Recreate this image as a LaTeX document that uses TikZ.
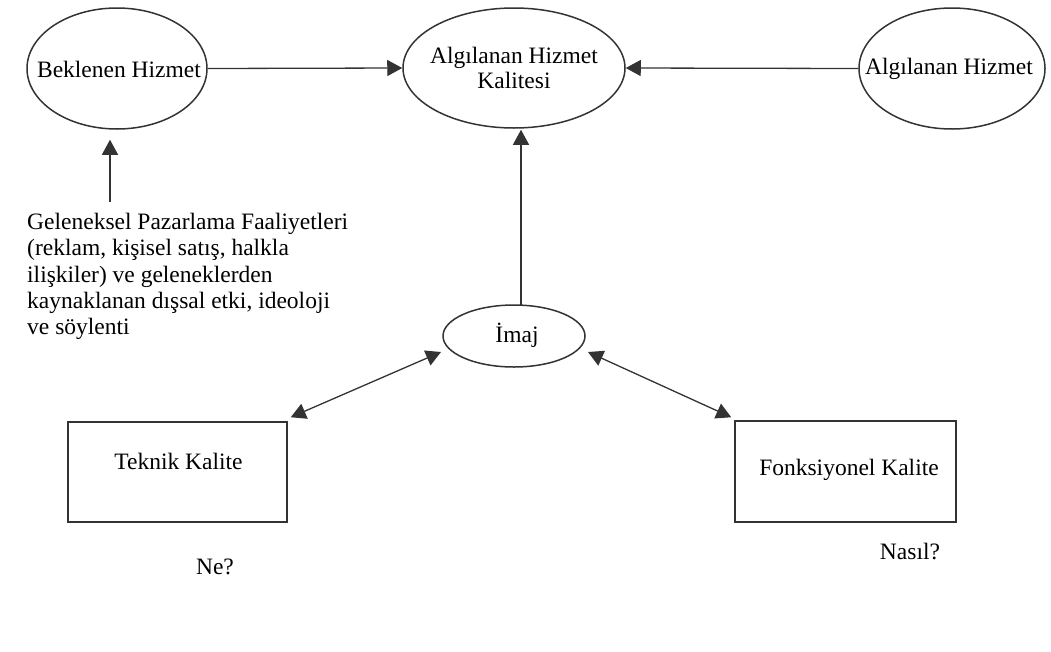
\documentclass[tikz,border=0pt]{standalone}
\usepackage{fontspec}
\setmainfont{Liberation Serif}
\usetikzlibrary{shapes.geometric,arrows.meta,calc}
\definecolor{ink}{HTML}{333333}
\begin{document}
\begin{tikzpicture}[x=1pt,y=-1pt,
  font=\fontsize{23.5}{25.5}\selectfont,
  oval/.style={draw=ink,line width=1.5pt,ellipse,inner sep=0pt},
  kutu/.style={draw=ink,line width=1.5pt,rectangle,inner sep=0pt},
  lbl/.style={inner sep=0pt,text=black},
  tip/.style={Triangle[length=15pt,width=16pt]},
  arr/.style={draw=ink,line width=1.3pt,-{Triangle[length=15pt,width=16pt]}},
  darr/.style={draw=ink,line width=1.3pt,{Triangle[length=15pt,width=16pt]}-{Triangle[length=15pt,width=16pt]}}]
\useasboundingbox (0,0) rectangle (1051,651);

% top row of ellipses
\node[oval,minimum width=180pt,minimum height=121pt] (bek) at (117,68.5) {};
\node[lbl] at (119,69) {Beklenen Hizmet};
\node[oval,minimum width=222pt,minimum height=120pt] (kal) at (514,68) {};
\node[lbl,align=center] at (514,68) {Algılanan Hizmet\\Kalitesi};
\node[oval,minimum width=186pt,minimum height=121pt] (alg) at (952,68.5) {};
\node[lbl] at (949,69) {Algılanan Hizmet};

% image ellipse
\node[oval,minimum width=142pt,minimum height=62pt] (imaj) at (514,336) {};
\node[lbl] at (517,335) {İmaj};

% quality boxes
\node[kutu,minimum width=219pt,minimum height=100pt] (tek) at (177.5,472) {};
\node[lbl] at (178.5,461) {Teknik Kalite};
\node[lbl] at (215,567) {Ne?};
\node[kutu,minimum width=221pt,minimum height=101pt] (fon) at (845.5,471.5) {};
\node[lbl] at (849,470) {Fonksiyonel Kalite};
\node[lbl] at (910,552) {Nasıl?};

% external influences text
\node[lbl,anchor=north west,align=left,font=\fontsize{23.5}{26.3}\selectfont] (ext) at (27,213)
  {Geleneksel Pazarlama Faaliyetleri\\(reklam, kişisel satış, halkla\\ilişkiler) ve geleneklerden\\kaynaklanan dışsal etki, ideoloji\\ve söylenti};

% connectors
\draw[arr] (bek.east) -- (kal.west);
\draw[arr] (alg.west) -- (kal.east);
\coordinate (etail) at (110,202);
\draw[arr,shorten >=10pt] (etail) -- (etail |- bek.south);
\coordinate (itop) at (521,306);
\draw[arr,shorten >=1pt] (itop) -- (itop |- kal.south);
\coordinate (il) at (441,352);
\coordinate (ir) at (588,352);
\draw[darr] (il) -- ($(tek.north east)+(3,-4)$);
\draw[darr] (ir) -- ($(fon.north west)+(-3,-3)$);
\end{tikzpicture}
\end{document}
